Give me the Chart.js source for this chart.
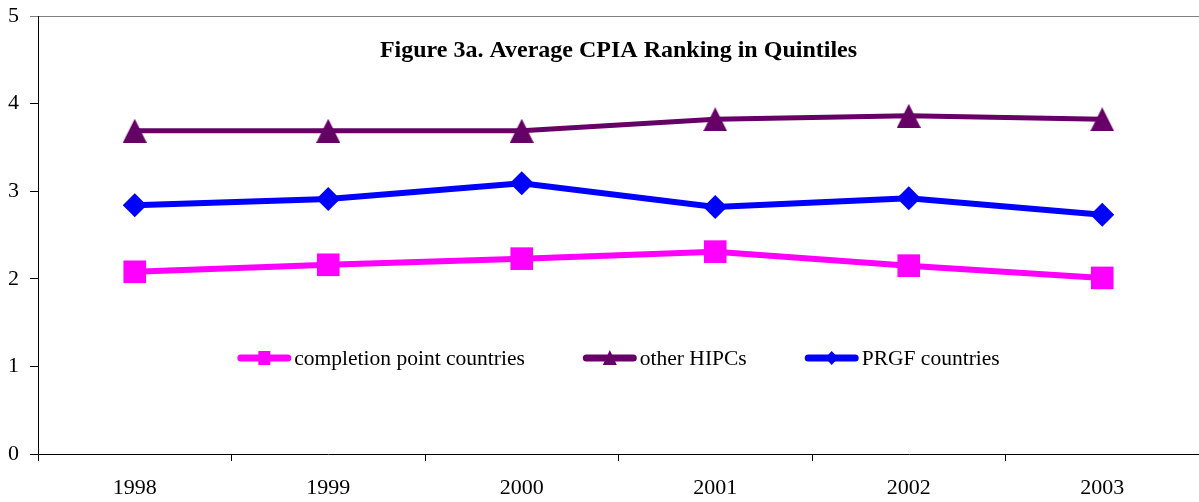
<!DOCTYPE html>
<html><head><meta charset="utf-8">
<script src="https://cdn.jsdelivr.net/npm/chart.js@4"></script>
<style>html,body{margin:0;padding:0;background:#fff}#wrap{width:1199px;height:502px}</style>
</head><body><div id="wrap"><canvas id="c" width="1199" height="502"></canvas></div>
<script>
const years = ['1998', '1999', '2000', '2001', '2002', '2003'];
const completionPoint = [2.08, 2.16, 2.23, 2.31, 2.15, 2.01];
const otherHIPCs = [3.69, 3.69, 3.69, 3.82, 3.86, 3.82];
const prgf = [2.84, 2.91, 3.09, 2.82, 2.92, 2.73];
const seriesNames = ['completion point countries', 'other HIPCs', 'PRGF countries'];
const chartTitle = 'Figure 3a. Average CPIA Ranking in Quintiles';

const FONT = '"Liberation Serif", "Times New Roman", serif';
const MAGENTA = '#FF00FF', PURPLE = '#660066', BLUE = '#0000FF';

function triCanvas(w, h, color) {
  const c = document.createElement('canvas');
  c.width = w; c.height = h;
  const g = c.getContext('2d');
  g.fillStyle = color;
  g.beginPath(); g.moveTo(w / 2, 0); g.lineTo(w, h); g.lineTo(0, h); g.closePath(); g.fill();
  return c;
}
const triPoint = triCanvas(24, 24, PURPLE);

function legendMarker(ctx, style, x, y, color) {
  ctx.fillStyle = color;
  ctx.beginPath();
  if (style === 'rect') { ctx.rect(x - 6, y - 7, 12, 14); }
  else if (style === 'tri') { ctx.moveTo(x, y - 8); ctx.lineTo(x + 7, y + 7); ctx.lineTo(x - 7, y + 7); ctx.closePath(); }
  else { ctx.moveTo(x, y - 7); ctx.lineTo(x + 6.5, y); ctx.lineTo(x, y + 7); ctx.lineTo(x - 6.5, y); ctx.closePath(); }
  ctx.fill();
}

const overlay = {
  id: 'overlay',
  afterDraw(chart) {
    const ctx = chart.ctx, a = chart.chartArea;
    const cx = (a.left + a.right) / 2;
    ctx.save();
    ctx.fillStyle = '#000';
    ctx.font = 'bold 24px ' + FONT;
    ctx.textAlign = 'center'; ctx.textBaseline = 'middle';
    ctx.fillText(chartTitle, cx, a.top + 35);
    // legend
    ctx.font = '21.5px ' + FONT;
    const styles = ['rect', 'tri', 'diamond'];
    const colors = [MAGENTA, PURPLE, BLUE];
    const lineW = 54, gapText = 3, gapItem = 58;
    const widths = seriesNames.map(n => lineW + gapText + ctx.measureText(n).width);
    const total = widths.reduce((s, w) => s + w, 0) + gapItem * (widths.length - 1);
    let x = cx - total / 2;
    const y = a.top + 342;
    ctx.textAlign = 'left';
    seriesNames.forEach((n, i) => {
      ctx.strokeStyle = colors[i]; ctx.lineWidth = 7; ctx.lineCap = 'round';
      ctx.beginPath(); ctx.moveTo(x + 3.5, y); ctx.lineTo(x + lineW - 3.5, y); ctx.stroke();
      legendMarker(ctx, styles[i], x + lineW / 2, y, colors[i]);
      ctx.fillStyle = '#000';
      ctx.fillText(n, x + lineW + gapText, y + 1);
      x += widths[i] + gapItem;
    });
    ctx.restore();
  }
};

function zeroPad(s) { s.paddingLeft = 0; s.paddingRight = 0; s.paddingTop = 0; s.paddingBottom = 0; }

new Chart(document.getElementById('c'), {
  type: 'line',
  data: {
    labels: years,
    datasets: [
      { label: seriesNames[0], data: completionPoint, borderColor: MAGENTA, backgroundColor: MAGENTA, borderWidth: 6,
        pointStyle: 'rect', pointRadius: 16, pointBorderWidth: 0, tension: 0 },
      { label: seriesNames[1], data: otherHIPCs, borderColor: PURPLE, backgroundColor: PURPLE, borderWidth: 5,
        pointStyle: triPoint, pointRadius: 12, pointBorderWidth: 0, tension: 0 },
      { label: seriesNames[2], data: prgf, borderColor: BLUE, backgroundColor: BLUE, borderWidth: 6,
        pointStyle: 'rectRot', pointRadius: 12, pointBorderWidth: 0, tension: 0 }
    ]
  },
  options: {
    responsive: false, animation: false, devicePixelRatio: 1,
    layout: { autoPadding: false, padding: { top: 16, right: 0, left: 0, bottom: 0 } },
    plugins: { legend: { display: false }, tooltip: { enabled: false }, title: { display: false } },
    scales: {
      x: {
        type: 'category', offset: true,
        grid: { offset: true, drawOnChartArea: false, color: '#000', tickColor: '#000', tickLength: 7 },
        border: { color: '#000', width: 1 },
        ticks: { color: '#000', font: { family: FONT, size: 22 }, padding: 14, maxRotation: 0 },
        afterFit(s) { s.height = 48; zeroPad(s); }
      },
      y: {
        min: 0, max: 5,
        ticks: { stepSize: 1, color: '#000', font: { family: FONT, size: 22 }, padding: 11 },
        grid: {
          color: c => (c.tick && c.tick.value === 5) ? '#808080' : 'rgba(0,0,0,0)',
          tickColor: c => (c.tick && c.tick.value === 5) ? '#808080' : '#000',
          tickLength: 8
        },
        border: { color: '#000', width: 1 },
        afterFit(s) { s.width = 38; zeroPad(s); }
      }
    }
  },
  plugins: [overlay]
});
</script></body></html>
